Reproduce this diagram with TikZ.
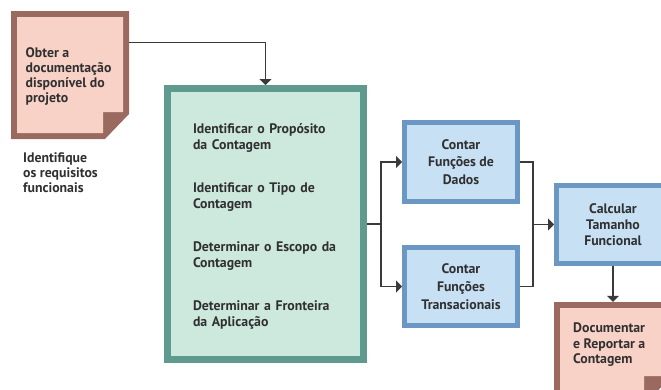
\documentclass[tikz,border=0pt]{standalone}
\usepackage{fontspec}
\setmainfont{PT Sans}
\usetikzlibrary{arrows.meta}
\hyphenpenalty=10000
\exhyphenpenalty=10000
\definecolor{brownB}{HTML}{9A6A61}
\definecolor{pinkF}{HTML}{F9D2C7}
\definecolor{tealB}{HTML}{5E9A8D}
\definecolor{tealF}{HTML}{CDE8DD}
\definecolor{blueB}{HTML}{6B98C3}
\definecolor{blueF}{HTML}{C8E0F4}
\definecolor{txt}{HTML}{303030}
\definecolor{ln}{HTML}{3A3A3A}
\tikzset{
  lbl/.style={font=\bfseries\fontsize{13.8}{15.2}\selectfont, text=txt, inner sep=0pt},
  greenbox/.style={draw=tealB, fill=tealF, line width=7pt, minimum width=196pt, minimum height=271pt,
    inner sep=0pt},
  greentext/.style={inner sep=0pt, text width=145pt, align=left, font=\bfseries\fontsize{13.8}{16}\selectfont, text=txt},
  bluebox/.style={draw=blueB, fill=blueF, line width=5pt, minimum width=113pt, minimum height=78pt,
    inner sep=0pt, align=center, font=\bfseries\fontsize{13.8}{17.8}\selectfont, text=txt},
  docshape/.style={inner sep=0pt},
  conn/.style={draw=ln, line width=1.2pt},
  arr/.style={conn, -{Triangle[width=12pt,length=6pt]}},
}
\newcommand{\docpoly}[4]{% L T R B
  \fill[brownB] (#1,#2) -- (#3,#2) -- (#3,#4-25) -- (#3-24,#4) -- (#1,#4) -- cycle;
  \fill[pinkF] (#1+6,#2+6) -- (#3-6,#2+6) -- (#3-6,#4-27) -- (#3-26,#4-27) -- (#3-26,#4-6) -- (#1+6,#4-6) -- cycle;
}
\begin{document}
\begin{tikzpicture}[x=1pt,y=-1pt]
\useasboundingbox (0,0) rectangle (661,389);
\clip (0,0) rectangle (661,389);
\fill[white] (0,0) rectangle (661,389);

% document 1
\node[docshape, minimum width=118pt, minimum height=128pt] (doc1) at (70,75) {};
\docpoly{11}{11}{129}{139}
\node[lbl, anchor=north west, align=left] (doc1t) at (25.5,47) {Obter a\\documentação\\disponível do\\projeto};

\node[lbl, anchor=north west, align=left] (req) at (23,152.5) {Identifique\\os requisitos\\funcionais};

% green box
\node[greenbox] (green) at (265.5,224) {};
\node[greentext] (greent) at (265.5,226.5) {Identificar o Propósito\\da Contagem\\[27pt]Identificar o Tipo de\\Contagem\\[27pt]Determinar o Escopo da\\Contagem\\[27pt]Determinar a Fronteira\\da Aplicação};

% blue boxes
\node[bluebox, minimum height=79pt] (blue1) at (461,162) {Contar\\Funções de\\Dados};
\node[bluebox] (blue2) at (461,286.5) {Contar\\Funções\\Transacionais};
\node[bluebox, minimum height=78pt, font=\bfseries\fontsize{13.8}{16}\selectfont] (calc) at (613,224.5) {Calcular\\Tamanho\\Funcional};

% document 2
\node[docshape, minimum width=116pt, minimum height=101pt] (doc2) at (612,352.5) {};
\docpoly{554}{302}{670}{403}
\node[lbl, anchor=north west, align=left, font=\bfseries\fontsize{13.8}{15.5}\selectfont] (doc2t) at (573,322.5) {Documentar\\e Reportar a\\Contagem};

% connectors
\draw[arr] ([yshift=-32pt]doc1.north east) -| (green.north);
\coordinate (j1) at (381,224);
\draw[conn] (green.east) -- (j1);
\draw[arr] (j1) |- (blue1.west);
\draw[arr] (j1) |- (blue2.west);
\coordinate (j2) at (533,224.5);
\draw[conn] (blue1.east) -| (j2) |- (blue2.east);
\draw[arr] (j2) -- (calc.west);
\draw[arr] (calc.south) -- (calc.south |- doc2.north);
\end{tikzpicture}
\end{document}
